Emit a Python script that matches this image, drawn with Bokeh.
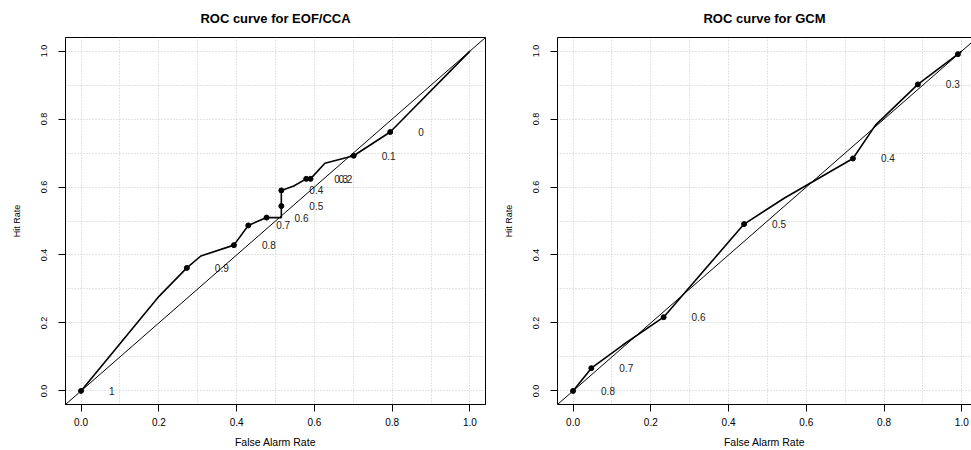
from bokeh.plotting import figure
from bokeh.layouts import row
from bokeh.models import FixedTicker, PrintfTickFormatter, Slope, LinearAxis, Range1d
from bokeh.core.properties import value
from bokeh.embed import file_html
from bokeh.resources import INLINE

# ---- EOF/CCA ROC data ----
eof_thresholds = ["1", "0.9", "0.8", "0.7", "0.6", "0.5", "0.4", "0.3", "0.2", "0.1", "0"]
eof_far = [0.0, 0.272, 0.393, 0.430, 0.477, 0.515, 0.515, 0.579, 0.590, 0.701, 0.795]
eof_hit = [0.0, 0.362, 0.429, 0.487, 0.510, 0.544, 0.590, 0.624, 0.624, 0.692, 0.762]
eof_curve_far = [0.0, 0.201, 0.272, 0.308, 0.393, 0.430, 0.477, 0.515, 0.515, 0.515,
                 0.547, 0.579, 0.590, 0.627, 0.701, 0.795, 1.0]
eof_curve_hit = [0.0, 0.279, 0.362, 0.397, 0.429, 0.487, 0.510, 0.510, 0.544, 0.590,
                 0.603, 0.624, 0.624, 0.670, 0.692, 0.762, 1.0]

# ---- GCM ROC data ----
gcm_thresholds = ["0.8", "0.7", "0.6", "0.5", "0.4", "0.3", "0.2"]
gcm_far = [0.0, 0.047, 0.233, 0.440, 0.720, 0.887, 0.990]
gcm_hit = [0.0, 0.067, 0.217, 0.491, 0.684, 0.902, 0.991]
gcm_curve_far = [0.0, 0.047, 0.128, 0.233, 0.440, 0.543, 0.720, 0.778, 0.887, 0.990, 1.0]
gcm_curve_hit = [0.0, 0.067, 0.135, 0.217, 0.491, 0.567, 0.684, 0.782, 0.902, 0.991, 1.0]

axis_ticks = [0.0, 0.2, 0.4, 0.6, 0.8, 1.0]
grid_ticks = [i / 10 for i in range(11)]

FONT = "Liberation Sans"
LABEL_OFFSET_PX = 28


def make_panel(title, thresholds, far, hit, cfar, chit, width, x_end,
               left_border, right_border, outline):
    p = figure(width=width, height=450,
               x_range=Range1d(-0.04, x_end), y_range=Range1d(-0.04, 1.04),
               output_backend="svg", toolbar_location=None, title=title,
               min_border_left=left_border, min_border_right=right_border,
               min_border_top=36, min_border_bottom=45)
    p.title.text_font = FONT
    p.title.text_font_style = "bold"
    p.title.text_font_size = "13px"
    p.title.align = "center"
    p.title.vertical_align = "top"
    p.title.text_color = "black"
    p.title.standoff = 20

    p.background_fill_color = "white"
    p.border_fill_color = "white"

    xax = p.below[0]
    yax = p.left[0]

    if outline:
        p.outline_line_color = "black"
        p.outline_line_width = 1
    else:
        p.outline_line_color = None
        top = LinearAxis(ticker=FixedTicker(ticks=[]), axis_line_color="black",
                         major_tick_line_color=None, minor_tick_line_color=None,
                         major_tick_out=0, major_label_standoff=0,
                         major_label_text_font_size="0px")
        p.add_layout(top, "above")

    for g in (p.xgrid, p.ygrid):
        g.ticker = FixedTicker(ticks=grid_ticks)
        g.grid_line_color = "#c8c8c8"
        g.grid_line_dash = "1 2"
        g.grid_line_width = 1

    for ax in (xax, yax):
        ax.ticker = FixedTicker(ticks=axis_ticks)
        ax.formatter = PrintfTickFormatter(format="%.1f")
        ax.major_tick_out = 7
        ax.major_tick_in = 0
        ax.minor_tick_line_color = None
        ax.axis_line_color = "black"
        ax.major_tick_line_color = "black"
        ax.major_label_text_font = FONT
        ax.major_label_text_color = "black"
        ax.axis_label_text_font = FONT
        ax.axis_label_text_font_style = "normal"
        ax.axis_label_text_color = "black"

    xax.axis_label = "False Alarm Rate"
    xax.major_label_text_font_size = "10px"
    xax.major_label_standoff = 6
    xax.axis_label_text_font_size = "10.5px"
    xax.axis_label_standoff = 7

    yax.axis_label = "Hit Rate"
    yax.major_label_orientation = "vertical"
    yax.major_label_text_font_size = "9px"
    yax.major_label_standoff = 11
    yax.axis_label_text_font_size = "9px"
    yax.axis_label_standoff = 17

    p.add_layout(Slope(gradient=1, y_intercept=0, line_color="black", line_width=1))
    p.line(cfar, chit, line_color="black", line_width=1.6)
    p.scatter(far, hit, size=5, color="black")

    # labels whose text would start beyond the plot region are clipped away (as in R)
    keep = [i for i in range(len(far)) if far[i] + 0.075 < x_end]
    p.text([far[i] for i in keep], [hit[i] for i in keep],
           text=[thresholds[i] for i in keep], x_offset=LABEL_OFFSET_PX,
           text_align="left", text_baseline="middle", text_font=value(FONT),
           text_font_size="10px", text_color="#222222")
    return p


p1 = make_panel("ROC curve for EOF/CCA", eof_thresholds, eof_far, eof_hit,
                eof_curve_far, eof_curve_hit, 495, 1.04, 65, 10, True)
p2 = make_panel("ROC curve for GCM", gcm_thresholds, gcm_far, gcm_hit,
                gcm_curve_far, gcm_curve_hit, 476, 1.025, 62, 0, False)

layout = row(p1, p2)
open("out.html", "w").write(file_html(layout, INLINE))
